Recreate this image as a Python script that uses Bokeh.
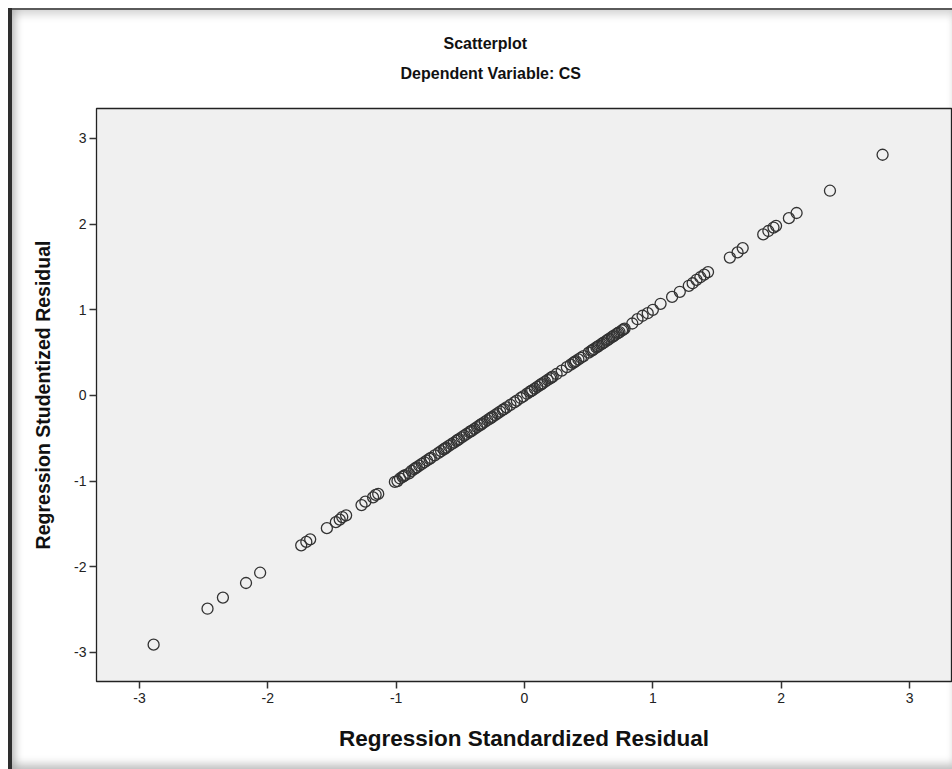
from bokeh.plotting import figure
from bokeh.models import FixedTicker, Title, Range1d, PrintfTickFormatter
from bokeh.embed import file_html
from bokeh.resources import INLINE

# Data
std_resid = [
    -2.89, -2.47, -2.35, -2.17, -2.06,
    -1.74, -1.70, -1.67, -1.54, -1.47, -1.44, -1.42, -1.39, -1.27, -1.24, -1.18, -1.16, -1.14,
    -1.01, -0.99, -0.97, -0.95, -0.94, -0.93, -0.90, -0.88, -0.86, -0.85, -0.84, -0.82, -0.80,
    -0.78, -0.76, -0.74, -0.73, -0.70, -0.67, -0.65, -0.63, -0.62, -0.61, -0.59, -0.57, -0.55,
    -0.53, -0.52, -0.51, -0.49, -0.47, -0.45, -0.43, -0.42, -0.41, -0.39, -0.37, -0.35, -0.34,
    -0.33, -0.31, -0.29, -0.27, -0.26, -0.25, -0.23, -0.21, -0.19, -0.17, -0.16, -0.14, -0.11,
    -0.08, -0.06, -0.03, -0.01, 0.02, 0.04, 0.05, 0.06, 0.08, 0.10, 0.12, 0.13, 0.14, 0.16,
    0.18, 0.20, 0.21, 0.22, 0.25, 0.29, 0.33, 0.36, 0.38, 0.39, 0.40, 0.42, 0.44, 0.46, 0.50,
    0.52, 0.53, 0.54, 0.56, 0.57, 0.58, 0.60, 0.61, 0.62, 0.64, 0.65, 0.66, 0.68, 0.69, 0.70,
    0.72, 0.73, 0.74, 0.76, 0.77, 0.78, 0.84, 0.88, 0.92, 0.96, 1.00, 1.06, 1.15, 1.21, 1.28,
    1.31, 1.34, 1.37, 1.40, 1.43, 1.60, 1.66, 1.70, 1.86, 1.90, 1.94, 1.96, 2.06, 2.12, 2.38, 2.79,
]
stud_resid = [
    -2.91, -2.49, -2.36, -2.19, -2.07,
    -1.75, -1.71, -1.68, -1.55, -1.48, -1.45, -1.42, -1.40, -1.28, -1.24, -1.19, -1.16, -1.15,
    -1.01, -1.00, -0.97, -0.95, -0.94, -0.93, -0.91, -0.88, -0.86, -0.85, -0.84, -0.82, -0.80,
    -0.78, -0.76, -0.74, -0.73, -0.70, -0.67, -0.65, -0.63, -0.62, -0.61, -0.59, -0.57, -0.55,
    -0.53, -0.52, -0.51, -0.49, -0.47, -0.45, -0.43, -0.42, -0.41, -0.39, -0.37, -0.35, -0.34,
    -0.33, -0.31, -0.29, -0.27, -0.26, -0.25, -0.23, -0.21, -0.19, -0.17, -0.16, -0.14, -0.11,
    -0.08, -0.06, -0.03, -0.01, 0.02, 0.04, 0.05, 0.06, 0.08, 0.10, 0.12, 0.13, 0.14, 0.16,
    0.18, 0.20, 0.21, 0.22, 0.25, 0.29, 0.33, 0.36, 0.38, 0.39, 0.40, 0.42, 0.44, 0.46, 0.50,
    0.52, 0.53, 0.54, 0.56, 0.57, 0.58, 0.60, 0.61, 0.62, 0.64, 0.65, 0.66, 0.68, 0.69, 0.70,
    0.72, 0.73, 0.74, 0.76, 0.77, 0.78, 0.84, 0.89, 0.93, 0.96, 1.00, 1.07, 1.15, 1.21, 1.28,
    1.31, 1.35, 1.38, 1.41, 1.44, 1.61, 1.67, 1.72, 1.88, 1.92, 1.96, 1.98, 2.07, 2.13, 2.39, 2.81,
]
tick_values = [-3, -2, -1, 0, 1, 2, 3]
title_text = "Scatterplot"
subtitle_text = "Dependent Variable: CS"
x_label = "Regression Standardized Residual"
y_label = "Regression Studentized Residual"

FONT = "Liberation Sans"

p = figure(
    width=952, height=769,
    output_backend="svg", toolbar_location=None,
    x_range=Range1d(-3.335, 3.327), y_range=Range1d(-3.34, 3.35),
    min_border_left=96, min_border_right=1, min_border_top=108, min_border_bottom=88,
    background_fill_color="#f0f0f0", border_fill_color=None,
    outline_line_color="#222222", outline_line_width=1.3,
    styles={
        "background": "white",
        "box-shadow": ("inset 8px 8px 0 0 #ffffff, "
                       "inset 12px 0 0 0 #2e2e2e, "
                       "inset 0 10px 0 0 #5a5a5a, "
                       "inset 20px 0 10px -6px #a8a8a8, "
                       "inset 0 20px 10px -6px #d0d0d0, "
                       "inset 0 -8px 8px -3px #c4c4c4"),
    },
)

# outermost title
p.title.text = title_text
p.title.align = "left"
p.title.offset = 347
p.title.text_font = FONT
p.title.text_font_size = "16px"
p.title.text_font_style = "bold"
p.title.text_color = "#111111"
p.title.standoff = 21

# spacer between the plot frame and the subtitle (white 1px dot, invisible on white)
spacer = Title(text=".", align="left", offset=2, text_font=FONT, text_font_size="1px",
               text_color="white", standoff=24)
p.add_layout(spacer, "above")

# subtitle
t2 = Title(text=subtitle_text, align="left", offset=304, text_font=FONT,
           text_font_size="16px", text_font_style="bold", text_color="#111111",
           standoff=0)
p.add_layout(t2, "above")

p.scatter(std_resid, stud_resid, marker="circle", size=11,
          fill_color=None, line_color="#333333", line_width=1.3)

for ax in (p.xaxis[0], p.yaxis[0]):
    ax.ticker = FixedTicker(ticks=tick_values)
    ax.formatter = PrintfTickFormatter(format="%d")
    ax.axis_line_color = None
    ax.major_tick_out = 7
    ax.major_tick_in = 0
    ax.major_tick_line_color = "#333333"
    ax.major_tick_line_width = 1.5
    ax.minor_tick_line_color = None
    ax.major_label_text_font = FONT
    ax.major_label_text_font_size = "14px"
    ax.major_label_text_color = "#222222"
    ax.axis_label_text_font = FONT
    ax.axis_label_text_font_style = "bold"
    ax.axis_label_text_color = "#111111"

p.xaxis.axis_label = x_label
p.yaxis.axis_label = y_label
p.xaxis.axis_label_text_font_size = "22.5px"
p.yaxis.axis_label_text_font_size = "19.5px"
p.xaxis.major_label_standoff = 4
p.yaxis.major_label_standoff = 3
p.xaxis.axis_label_standoff = 20
p.yaxis.axis_label_standoff = 17
p.xgrid.grid_line_color = None
p.ygrid.grid_line_color = None

open("out.html", "w").write(file_html(p, INLINE))
